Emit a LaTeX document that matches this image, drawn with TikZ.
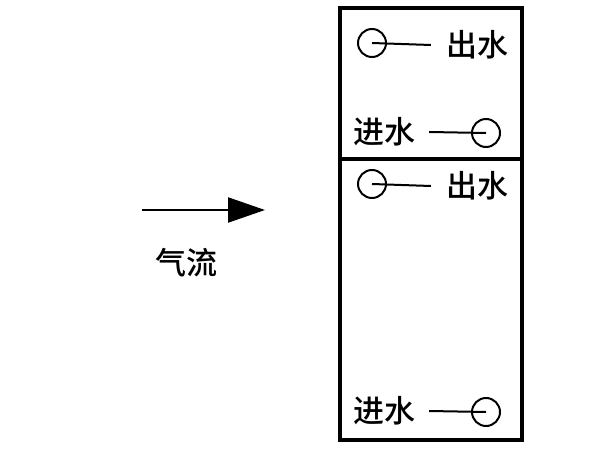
\documentclass[tikz,border=0pt]{standalone}
\usepackage{fontspec}
\usepackage{tikz}
\usetikzlibrary{arrows.meta}
\usetikzlibrary{positioning}
\newfontfamily\cjk{Noto Sans CJK SC Medium}
\tikzset{port/.style = {draw, circle, inner sep = 0, minimum size = 28, line width = 2}}
\tikzset{lbl/.style = {font = \cjk\fontsize{31}{34}\selectfont, inner sep = 0}}
\tikzset{wall/.style = {line width = 3.2}}
\tikzset{pipe/.style = {line width = 2}}

\begin{document}
\begin{tikzpicture}[x=1pt, y=-1pt]
    \useasboundingbox (0, 0) rectangle (602, 462);

    % tower
    \draw [wall] (340, 8) rectangle (522, 440);
    \draw [wall] (340, 159) -- (522, 159);

    % upper section
    \node [port] (o1) at (372, 43) {};
    \node [lbl] (lo1) at (477, 45) {出水};
    \draw [pipe] (o1.center) -- ([xshift=-15]lo1.west);
    \node [port] (i1) at (486, 133) {};
    \node [lbl] (li1) at (384, 132) {进水};
    \draw [pipe] ([xshift=14]li1.east) -- (i1.center);

    % lower section
    \node [port] (o2) at (372, 184) {};
    \node [lbl] (lo2) at (477, 186) {出水};
    \draw [pipe] (o2.center) -- ([xshift=-15]lo2.west);
    \node [port] (i2) at (486, 412) {};
    \node [lbl] (li2) at (384, 411) {进水};
    \draw [pipe] ([xshift=14]li2.east) -- (i2.center);

    % air flow
    \coordinate (a0) at (142, 210);
    \coordinate (a1) at (265, 210);
    \draw [line width = 2.2, -{Triangle[length=37, width=25]}] (a0) -- (a1);
    \node [lbl] (air) at (186, 263) {气流};
\end{tikzpicture}
\end{document}
